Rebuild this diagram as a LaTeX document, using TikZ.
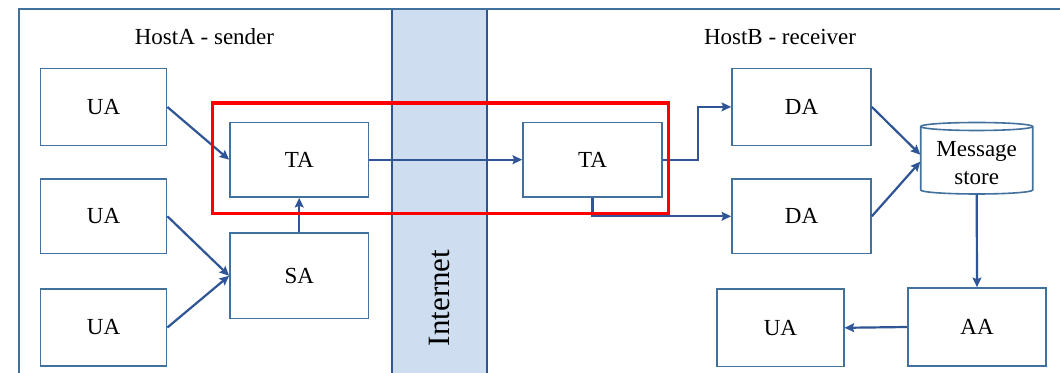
\documentclass[tikz,border=0pt]{standalone}
\usepackage{fontspec}
\setmainfont{Liberation Serif}
\usetikzlibrary{arrows.meta}
\definecolor{boxc}{RGB}{65,113,156}
\definecolor{arrc}{RGB}{47,85,151}
\definecolor{bandfill}{RGB}{206,222,240}
\begin{document}
\begin{tikzpicture}[x=0.5pt,y=-0.5pt,
  box/.style={draw=boxc, line width=0.8pt, fill=white, inner sep=0pt, font=\fontsize{11.5}{13.65}\selectfont},
  conn/.style={draw=arrc, line width=1.1pt, -{Stealth[length=4.8pt,width=4.4pt,inset=0.8pt]}},
  lbl/.style={font=\fontsize{11.5}{13.65}\selectfont, inner sep=0pt}]
\useasboundingbox (0,0) rectangle (1060,373);
\clip (0,0) rectangle (1060,373);
\fill[white] (0,0) rectangle (1060,373);
% Internet band and frame
\draw[draw=arrc, line width=1.1pt, fill=bandfill] (392,9) rectangle (487,400);
\draw[draw=boxc, line width=0.9pt] (1100,9) -- (19,9) -- (19,400);
\node[rotate=90, inner sep=0pt, font=\fontsize{15.5}{18}\selectfont] (inet) at (439.5,298) {Internet};
% labels
\node[lbl] (hosta) at (204.5,37) {HostA - sender};
\node[lbl] (hostb) at (780,37) {HostB - receiver};
% sender side
\node[box, minimum width=63pt, minimum height=38.5pt] (ua1) at (103.6,107) {UA};
\node[box, minimum width=63pt, minimum height=37.4pt] (ua2) at (103.6,216.3) {UA};
\node[box, minimum width=63pt, minimum height=38.5pt] (ua3) at (103.6,327.5) {UA};
\node[box, minimum width=69.25pt, minimum height=37.3pt] (ta1) at (299.2,159.7) {TA};
\node[box, minimum width=69.25pt, minimum height=42.8pt] (sa) at (299.2,275.8) {SA};
% receiver side
\node[box, minimum width=69.5pt, minimum height=37.3pt] (ta2) at (592.5,159.7) {TA};
\node[box, minimum width=69.5pt, minimum height=38.5pt] (da1) at (801.5,106.9) {DA};
\node[box, minimum width=69.5pt, minimum height=37.35pt] (da2) at (801.5,216.3) {DA};
\node[box, minimum width=69pt, minimum height=39pt] (aa) at (977,327) {AA};
\node[box, minimum width=63.35pt, minimum height=38.8pt] (ua4) at (780.4,327.8) {UA};
% message store cylinder
\draw[draw=boxc, line width=0.8pt, fill=white]
  (920.7,126.5) -- (920.7,190)
  arc[start angle=180, end angle=360, x radius=28pt, y radius=2pt]
  -- (1032.7,126.5)
  arc[start angle=0, end angle=180, x radius=28pt, y radius=2pt] -- cycle;
\draw[draw=boxc, line width=0.8pt]
  (920.7,126.5) arc[start angle=180, end angle=360, x radius=28pt, y radius=2pt];
\node[inner sep=0pt, minimum width=56pt, minimum height=35.85pt] (ms) at (976.7,158.2) {};
\node[lbl, align=center] (mstext) at (976.7,163) {Message\\store};
% connectors
\draw[conn] (ua1.east) -- (ta1.west);
\draw[conn] (ua2.east) -- (sa.west);
\draw[conn] (ua3.east) -- (sa.west);
\draw[conn] (sa.north) -- (ta1.south);
\draw[conn] (ta1.east) -- (ta2.west);
\draw[conn] (ta2.east) -- ++(35,0) |- (da1.west);
\draw[conn] (ta2.south) |- (da2.west);
\draw[conn] (da1.east) -- ([yshift=1.75pt]ms.west);
\draw[conn] (da2.east) -- ([yshift=-1.75pt]ms.west);
\draw[conn] (ms.south) -- (aa.north);
\draw[conn] (aa.west) -- (ua4.east);
% highlight
\draw[red, line width=1.6pt] (212.3,103) rectangle (668.6,213.8);
\end{tikzpicture}
\end{document}
